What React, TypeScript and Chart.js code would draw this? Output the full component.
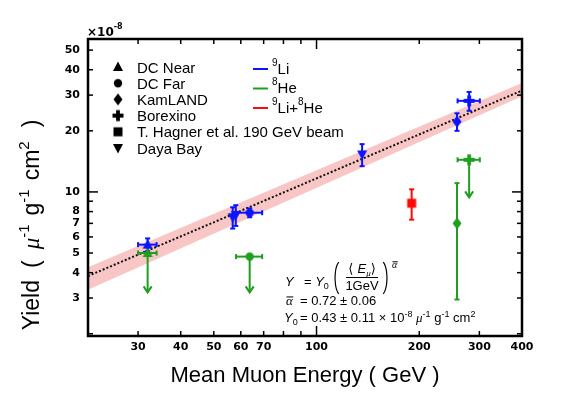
import React, { useEffect, useRef } from "react";
import { Chart, registerables } from "chart.js";

Chart.register(...registerables);

// ---------- axes ----------
const X_MIN = 21.4;
const X_MAX = 400;
const Y_MIN = 1.95;
const Y_MAX = 56.7;
const X_TICK_LABELS = [30, 40, 50, 60, 70, 100, 200, 300, 400];
const X_MINOR_TICKS = [30, 40, 50, 60, 70, 80, 90, 200, 300];
const X_MAJOR_TICKS = [100];
const Y_TICK_LABELS = [3, 4, 5, 6, 7, 8, 10, 20, 30, 40, 50];
const Y_MINOR_TICKS = [2, 3, 4, 5, 6, 7, 8, 9, 20, 30, 40, 50];
const Y_MAJOR_TICKS = [10];

// ---------- 9Li (blue) ----------
const LI9_MARKER = ["DC Near", "Daya Bay", "Daya Bay", "DC Far", "Daya Bay", "KamLAND", "Borexino"];
const LI9_ENERGY = [32, 56.8, 58, 63.7, 136, 258, 280];
const LI9_ENERGY_ERR = [2, 0, 0, 5.6, 0, 0, 21];
const LI9_YIELD = [5.5, 7.5, 7.7, 7.9, 15.3, 22.2, 28.1];
const LI9_YIELD_ERR = [0.4, 0.9, 0.9, 0.4, 1.9, 2.2, 3.0];

// ---------- 8He (green) ----------
const HE8_MARKER = ["DC Near", "DC Far", "KamLAND", "Borexino"];
const HE8_ENERGY = [32, 63.7, 258, 280];
const HE8_ENERGY_ERR = [2, 5.6, 0, 21];
const HE8_YIELD = [5.0, 4.8, 7.0, 14.4];
const HE8_YIELD_ERR = [0, 0, 4.05, 0];
const HE8_UPPER_LIMIT = [true, true, false, true];
const HE8_ARROW_END = [3.2, 3.2, 0, 9.4];

// ---------- 9Li+8He (red) ----------
const LIHE_MARKER = ["T. Hagner et al. 190 GeV beam"];
const LIHE_ENERGY = [190];
const LIHE_ENERGY_ERR = [0];
const LIHE_YIELD = [8.8];
const LIHE_YIELD_ERR = [1.5];

// ---------- power-law fit (straight in log-log) ----------
const FIT_ENERGY = [21.4, 400];
const FIT_YIELD = [3.85, 31.6];
const BAND_LOW = [3.3, 29.6];
const BAND_HIGH = [4.25, 34.4];

// ---------- legend ----------
const MARKER_LEGEND = ["DC Near", "DC Far", "KamLAND", "Borexino", "T. Hagner et al. 190 GeV beam", "Daya Bay"];
const SHAPES: Record<string, string> = {
  "DC Near": "triangle",
  "DC Far": "circle",
  KamLAND: "diamond",
  Borexino: "cross",
  "T. Hagner et al. 190 GeV beam": "square",
  "Daya Bay": "triangleDown",
};

const BLUE = "#0a14ff";
const GREEN = "#1f9e1f";
const RED = "#ff0a0a";
const PINK = "#f9c6c6";
const SANS = '"Liberation Sans", Arial, sans-serif';
const SERIF = '"Liberation Serif", "DejaVu Serif", serif';

function makeMarker(name: string, color: string): HTMLCanvasElement {
  const c = document.createElement("canvas");
  c.width = 14;
  c.height = 14;
  const g = c.getContext("2d")!;
  g.fillStyle = color;
  g.translate(7, 7);
  g.beginPath();
  switch (SHAPES[name]) {
    case "triangle":
      g.moveTo(0, -5.5); g.lineTo(5, 4); g.lineTo(-5, 4); g.closePath(); break;
    case "triangleDown":
      g.moveTo(0, 5.5); g.lineTo(5, -4); g.lineTo(-5, -4); g.closePath(); break;
    case "circle":
      g.arc(0, 0, 4.2, 0, Math.PI * 2); break;
    case "diamond":
      g.moveTo(0, -6); g.lineTo(4.5, 0); g.lineTo(0, 6); g.lineTo(-4.5, 0); g.closePath(); break;
    case "cross":
      g.rect(-5.5, -1.9, 11, 3.8); g.rect(-1.9, -5.5, 3.8, 11); break;
    case "square":
      g.rect(-4.5, -4.5, 9, 9); break;
  }
  g.fill();
  return c;
}

function pts(xs: number[], ys: number[]) {
  return xs.map((x, i) => ({ x, y: ys[i] }));
}

type Series = {
  color: string; x: number[]; xe: number[]; y: number[]; ye: number[];
  limit?: boolean[]; arrowEnd?: number[];
};

const SERIES: Series[] = [
  { color: BLUE, x: LI9_ENERGY, xe: LI9_ENERGY_ERR, y: LI9_YIELD, ye: LI9_YIELD_ERR },
  { color: GREEN, x: HE8_ENERGY, xe: HE8_ENERGY_ERR, y: HE8_YIELD, ye: HE8_YIELD_ERR, limit: HE8_UPPER_LIMIT, arrowEnd: HE8_ARROW_END },
  { color: RED, x: LIHE_ENERGY, xe: LIHE_ENERGY_ERR, y: LIHE_YIELD, ye: LIHE_YIELD_ERR },
];

function line(ctx: CanvasRenderingContext2D, x1: number, y1: number, x2: number, y2: number) {
  ctx.beginPath();
  ctx.moveTo(x1, y1);
  ctx.lineTo(x2, y2);
  ctx.stroke();
}

function drawErrorBars(chart: any) {
  const ctx: CanvasRenderingContext2D = chart.ctx;
  const xs = chart.scales.x, ys = chart.scales.y;
  ctx.save();
  ctx.lineWidth = 2;
  for (const s of SERIES) {
    ctx.strokeStyle = s.color;
    s.x.forEach((xv, i) => {
      const px = xs.getPixelForValue(xv);
      const py = ys.getPixelForValue(s.y[i]);
      if (s.ye[i] > 0) {
        const t = ys.getPixelForValue(s.y[i] + s.ye[i]);
        const b = ys.getPixelForValue(s.y[i] - s.ye[i]);
        line(ctx, px, t, px, b);
        line(ctx, px - 2.5, t, px + 2.5, t);
        line(ctx, px - 2.5, b, px + 2.5, b);
      }
      if (s.xe[i] > 0) {
        const l = xs.getPixelForValue(xv - s.xe[i]);
        const r = xs.getPixelForValue(xv + s.xe[i]);
        line(ctx, l, py, r, py);
        line(ctx, l, py - 2.5, l, py + 2.5);
        line(ctx, r, py - 2.5, r, py + 2.5);
      }
      if (s.limit && s.limit[i] && s.arrowEnd) {
        const e = ys.getPixelForValue(s.arrowEnd[i]);
        line(ctx, px, py, px, e);
        ctx.beginPath();
        ctx.moveTo(px - 4, e - 6);
        ctx.lineTo(px, e);
        ctx.lineTo(px + 4, e - 6);
        ctx.stroke();
      }
    });
  }
  ctx.restore();
}

type Part = [string, string, number?];

function rich(ctx: CanvasRenderingContext2D, x: number, y: number, parts: Part[]) {
  for (const [t, f, dy] of parts) {
    ctx.font = f;
    if (t.startsWith("#gap")) { x += Number(t.slice(4)); continue; }
    ctx.fillText(t, x, y + (dy || 0));
    x += ctx.measureText(t).width;
  }
  return x;
}

function richWidth(ctx: CanvasRenderingContext2D, parts: Part[]) {
  let w = 0;
  for (const [t, f] of parts) {
    ctx.font = f;
    if (t.startsWith("#gap")) { w += Number(t.slice(4)); continue; }
    w += ctx.measureText(t).width;
  }
  return w;
}

function alphaBar(ctx: CanvasRenderingContext2D, x: number, y: number, size: number) {
  ctx.font = `italic ${size}px ${SERIF}`;
  ctx.fillText("α", x, y);
  const w = ctx.measureText("α").width;
  ctx.lineWidth = 1;
  line(ctx, x + 0.5, y - size * 0.62, x + w + 0.5, y - size * 0.62);
  return x + w;
}

const overlay = {
  id: "overlay",
  afterDatasetDraw(chart: any, args: any) {
    if (args.index === 2) drawErrorBars(chart);
  },
  afterDraw(chart: any) {
    const ctx: CanvasRenderingContext2D = chart.ctx;
    const { left, right, top, bottom } = chart.chartArea;
    const xs = chart.scales.x, ys = chart.scales.y;
    ctx.save();
    ctx.fillStyle = "#000";
    ctx.strokeStyle = "#000";
    ctx.lineWidth = 1.5;
    X_MINOR_TICKS.forEach((v) => {
      const p = xs.getPixelForValue(v);
      line(ctx, p, bottom, p, bottom - 5);
      line(ctx, p, top, p, top + 5);
    });
    X_MAJOR_TICKS.forEach((v) => {
      const p = xs.getPixelForValue(v);
      line(ctx, p, bottom, p, bottom - 10);
      line(ctx, p, top, p, top + 10);
    });
    Y_MINOR_TICKS.forEach((v) => {
      const p = ys.getPixelForValue(v);
      line(ctx, left, p, left + 5, p);
      line(ctx, right, p, right - 5, p);
    });
    Y_MAJOR_TICKS.forEach((v) => {
      const p = ys.getPixelForValue(v);
      line(ctx, left, p, left + 10, p);
      line(ctx, right, p, right - 10, p);
    });
    ctx.lineWidth = 2.5;
    ctx.strokeRect(left, top, right - left, bottom - top);

    // exponent
    ctx.textBaseline = "alphabetic";
    ctx.textAlign = "left";
    rich(ctx, left - 1, 36, [["×10", 'bold 12px "DejaVu Sans"'], ["-8", 'bold 8px "DejaVu Sans"', -7]]);

    // x title
    ctx.font = `22px ${SANS}`;
    ctx.textAlign = "center";
    ctx.fillText("Mean Muon Energy ( GeV )", (left + right) / 2, 382);
    ctx.textAlign = "left";

    // y title
    const T = `23px ${SANS}`;
    const TS = `15px ${SANS}`;
    const yParts: Part[] = [
      ["Yield", T],
      ["#gap12", T],
      ["(", T],
      ["#gap11", T],
      ["μ", `italic 23px ${SERIF}`],
      ["-1", TS, -10],
      ["#gap9", T],
      ["g", T],
      ["-1", TS, -10],
      ["#gap9", T],
      ["cm", T],
      ["2", TS, -10],
      ["#gap14", T],
      [")", T],
    ];
    ctx.save();
    ctx.translate(39, 225);
    ctx.rotate(-Math.PI / 2);
    rich(ctx, -richWidth(ctx, yParts) / 2, 0, yParts);
    ctx.restore();

    // marker legend
    MARKER_LEGEND.forEach((name, i) => {
      const cy = 67 + i * 16.2;
      ctx.drawImage(makeMarker(name, "#000"), 118 - 7, cy - 7);
      ctx.font = `15px ${SANS}`;
      ctx.fillText(name, 137, cy + 5.5);
    });

    // colour legend
    const colorRows: [string, Part[]][] = [
      [BLUE, [["9", `10px ${SANS}`, -8], ["Li", `15px ${SANS}`]]],
      [GREEN, [["8", `10px ${SANS}`, -8], ["He", `15px ${SANS}`]]],
      [RED, [["9", `10px ${SANS}`, -8], ["Li+", `15px ${SANS}`], ["8", `10px ${SANS}`, -8], ["He", `15px ${SANS}`]]],
    ];
    colorRows.forEach(([col, parts], i) => {
      const cy = 69 + i * 19.5;
      ctx.strokeStyle = col;
      ctx.lineWidth = 2;
      line(ctx, 253, cy, 268, cy);
      ctx.fillStyle = "#000";
      rich(ctx, 272, cy + 4.5, parts);
    });

    // formula
    ctx.fillStyle = "#000";
    ctx.strokeStyle = "#000";
    const F = `13px ${SANS}`;
    const FI = `italic 13px ${SANS}`;
    const FS = `9px ${SANS}`;
    // row 1
    rich(ctx, 285, 286, [["Y", FI]]);
    rich(ctx, 304, 286, [["= ", F], ["Y", FI], ["0", FS, 3]]);
    ctx.lineWidth = 1.2;
    ctx.beginPath();
    ctx.ellipse(341, 278, 6, 17, 0, Math.PI * 0.62, Math.PI * 1.38);
    ctx.stroke();
    ctx.beginPath();
    ctx.ellipse(381, 278, 6, 17, 0, -Math.PI * 0.38, Math.PI * 0.38);
    ctx.stroke();
    const num: Part[] = [["⟨ ", `13px "DejaVu Sans"`], ["E", FI], ["μ", `italic 9px ${SERIF}`, 3], ["⟩", `13px "DejaVu Sans"`]];
    rich(ctx, 362 - richWidth(ctx, num) / 2, 273, num);
    ctx.lineWidth = 1;
    line(ctx, 346, 277.5, 378, 277.5);
    ctx.font = F;
    ctx.textAlign = "center";
    ctx.fillText("1GeV", 362, 290);
    ctx.textAlign = "left";
    alphaBar(ctx, 392, 268, 10);
    // row 2
    alphaBar(ctx, 286, 305, 13);
    rich(ctx, 300, 305, [["= 0.72 ± 0.06", F]]);
    // row 3
    rich(ctx, 284, 322, [["Y", FI], ["0", FS, 3]]);
    rich(ctx, 300, 322, [
      ["= 0.43 ± 0.11 × 10", F],
      ["-8", FS, -5],
      [" ", F],
      ["μ", `italic 13px ${SERIF}`],
      ["-1", FS, -5],
      [" g", F],
      ["-1", FS, -5],
      [" cm", F],
      ["2", FS, -5],
    ]);
    ctx.restore();
  },
};

export default function App() {
  const ref = useRef<HTMLCanvasElement>(null);
  useEffect(() => {
    const chart = new Chart(ref.current!, {
      type: "scatter",
      data: {
        datasets: [
          {
            type: "line",
            data: pts(FIT_ENERGY, BAND_HIGH),
            borderWidth: 0,
            pointRadius: 0,
            fill: "+1",
            backgroundColor: PINK,
            order: 3,
          },
          {
            type: "line",
            data: pts(FIT_ENERGY, BAND_LOW),
            borderWidth: 0,
            pointRadius: 0,
            fill: false,
            order: 3,
          },
          {
            type: "line",
            data: pts(FIT_ENERGY, FIT_YIELD),
            borderColor: "#111",
            borderWidth: 2,
            borderDash: [2, 2],
            pointRadius: 0,
            fill: false,
            order: 2,
          },
          {
            data: pts(LI9_ENERGY, LI9_YIELD),
            pointStyle: LI9_MARKER.map((m) => makeMarker(m, BLUE)) as any,
            pointRadius: 5,
            showLine: false,
            order: 1,
          },
          {
            data: pts(HE8_ENERGY, HE8_YIELD),
            pointStyle: HE8_MARKER.map((m) => makeMarker(m, GREEN)) as any,
            pointRadius: 5,
            showLine: false,
            order: 1,
          },
          {
            data: pts(LIHE_ENERGY, LIHE_YIELD),
            pointStyle: LIHE_MARKER.map((m) => makeMarker(m, RED)) as any,
            pointRadius: 5,
            showLine: false,
            order: 1,
          },
        ] as any,
      },
      options: {
        animation: false,
        responsive: false,
        devicePixelRatio: 1,
        layout: { padding: { top: 39, right: 59, left: 0, bottom: 0 } },
        plugins: { legend: { display: false }, tooltip: { enabled: false } },
        scales: {
          x: {
            type: "logarithmic",
            min: X_MIN,
            max: X_MAX,
            grid: { display: false, drawTicks: false },
            border: { display: false },
            afterFit: (s: any) => { s.height = 60; },
            afterBuildTicks: (s: any) => { s.ticks = X_TICK_LABELS.map((v) => ({ value: v })); },
            ticks: {
              autoSkip: false,
              maxRotation: 0,
              padding: 5,
              color: "#000",
              font: { family: "DejaVu Sans", size: 11, weight: "bold" },
              callback: (v: any) => String(v),
            },
          },
          y: {
            type: "logarithmic",
            min: Y_MIN,
            max: Y_MAX,
            grid: { display: false, drawTicks: false },
            border: { display: false },
            afterFit: (s: any) => { s.width = 88; },
            afterBuildTicks: (s: any) => { s.ticks = Y_TICK_LABELS.map((v) => ({ value: v })); },
            ticks: {
              autoSkip: false,
              padding: 8,
              color: "#000",
              font: { family: "DejaVu Sans", size: 11, weight: "bold" },
              callback: (v: any) => String(v),
            },
          },
        },
      } as any,
      plugins: [overlay],
    });
    return () => chart.destroy();
  }, []);
  return (
    <div style={{ position: "fixed", left: 0, top: 0, width: 581, height: 396, background: "#fff" }}>
      <canvas ref={ref} width={581} height={396} style={{ width: 581, height: 396, display: "block" }} />
    </div>
  );
}
